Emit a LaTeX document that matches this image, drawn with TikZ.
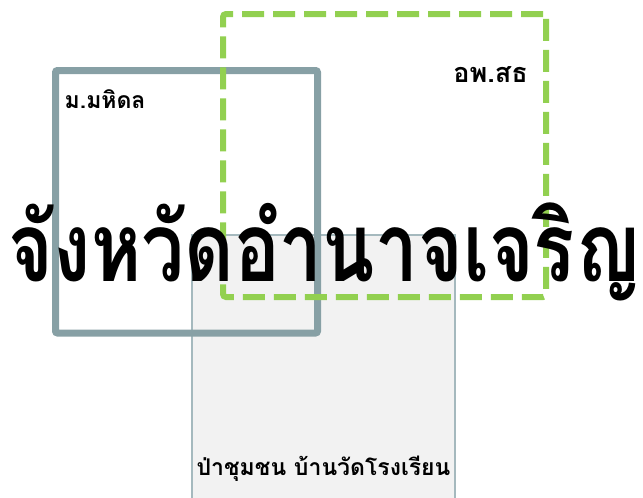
\documentclass[tikz,border=0pt]{standalone}
\usepackage{fontspec}
\setmainfont[Script=Thai]{Loma}
\usepackage{xcolor}
\usepackage{graphicx}
\usepackage{tikz}
\usetikzlibrary{positioning}
\definecolor{myteal}{RGB}{135,160,165}
\definecolor{mygreen}{RGB}{146,208,80}
\definecolor{mygray}{RGB}{242,242,242}
\definecolor{myedge}{RGB}{165,185,190}

\begin{document}
\begin{tikzpicture}[x=1pt, y=-1pt,
      area/.style={draw, minimum width=#1, inner sep=0pt, outer sep=0pt},
      lbl/.style={font=\bfseries\fontsize{23}{25}\selectfont, inner sep=0pt}
  ]
    \clip (0,0) rectangle (643,498);

    \node[area=263pt, minimum height=272pt, draw=myedge, line width=1.2pt,
          fill=mygray] (forest) at (323.5,371) {};
    \node[area=262pt, minimum height=262.5pt, draw=myteal, line width=7pt,
          rounded corners=2pt] (uni) at (186.5,201.75) {};
    \node[area=323pt, minimum height=283pt, draw=mygreen, line width=6pt,
          dash pattern=on 22pt off 9pt, rounded corners=3pt] (afp) at (384.5,155.5) {};

    % labels
    \node[lbl, anchor=base west] (unilbl) at ([xshift=9pt, yshift=-38pt]uni.north west) {ม.มหิดล};
    \node[lbl, anchor=base east, font=\bfseries\fontsize{27}{29}\selectfont]
      (afplbl) at ([xshift=-18pt, yshift=-68pt]afp.north east) {อพ.สธ};
    \node[lbl, anchor=base] (forestlbl) at (forest.center |- 0,475) {ป่าชุมชน บ้านวัดโรงเรียน};

    \node[font=\bfseries\fontsize{96}{110}\selectfont, inner sep=0pt, anchor=base]
      (province) at (324.5,281) {\resizebox{631pt}{\height}{จังหวัดอำนาจเจริญ}};
\end{tikzpicture}
\end{document}
